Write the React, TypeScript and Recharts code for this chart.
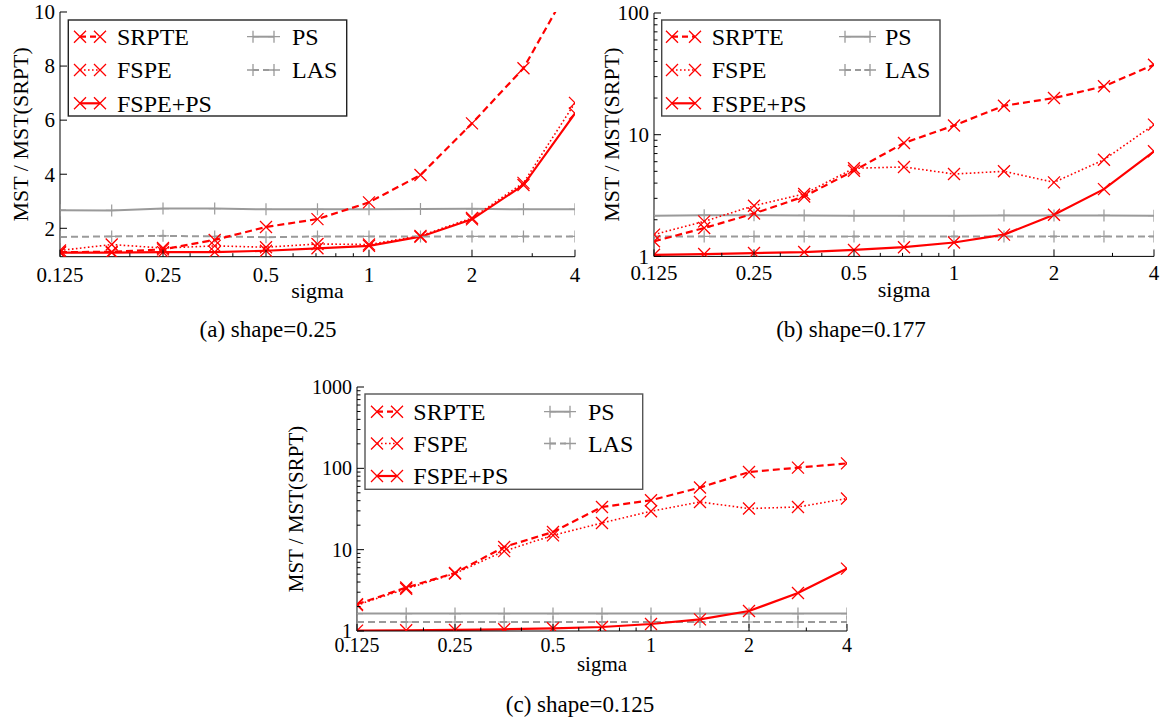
import React from 'react';
import { LineChart, Line, XAxis, YAxis } from 'recharts';

// ---------- data ----------
const sigma = [0.125, 0.177, 0.25, 0.354, 0.5, 0.707, 1, 1.414, 2, 2.828, 4];

const srpteA = [1.12, 1.13, 1.22, 1.57, 2.05, 2.34, 2.96, 3.97, 5.88, 7.92, 11.3];
const fspeA = [1.18, 1.4, 1.27, 1.35, 1.3, 1.42, 1.4, 1.72, 2.38, 3.68, 6.64];
const fspepsA = [1.1, 1.1, 1.12, 1.12, 1.17, 1.26, 1.35, 1.69, 2.33, 3.6, 6.25];
const psA = [2.67, 2.66, 2.73, 2.73, 2.7, 2.7, 2.7, 2.71, 2.72, 2.7, 2.7];
const lasA = [1.68, 1.7, 1.72, 1.7, 1.67, 1.7, 1.7, 1.7, 1.7, 1.7, 1.7];

const srpteB = [1.33, 1.71, 2.25, 3.11, 5.06, 8.55, 11.9, 17.3, 20, 25, 37.6];
const fspeB = [1.51, 1.94, 2.61, 3.26, 5.3, 5.43, 4.75, 5.0, 4.06, 6.23, 12.1];
const fspepsB = [1.03, 1.045, 1.065, 1.085, 1.13, 1.19, 1.3, 1.51, 2.2, 3.57, 7.3];
const psB = [2.16, 2.18, 2.18, 2.17, 2.16, 2.16, 2.16, 2.17, 2.17, 2.17, 2.16];
const lasB = [1.46, 1.46, 1.46, 1.46, 1.46, 1.46, 1.46, 1.46, 1.46, 1.46, 1.46];

const srpteC = [2.13, 3.42, 5.17, 10.8, 16.5, 33.5, 40.5, 58, 90, 102, 115];
const fspeC = [2.08, 3.3, 5.1, 9.6, 15, 21.3, 29.7, 38.6, 32, 33.5, 42.5];
const fspepsC = [1.01, 1.02, 1.03, 1.05, 1.08, 1.12, 1.22, 1.39, 1.76, 2.93, 5.85];
const psC = [1.64, 1.64, 1.64, 1.64, 1.64, 1.64, 1.64, 1.64, 1.64, 1.64, 1.64];
const lasC = [1.29, 1.29, 1.29, 1.29, 1.29, 1.29, 1.29, 1.29, 1.29, 1.29, 1.29];

const xMajor = [0.125, 0.25, 0.5, 1, 2, 4];
const xMajorLabels = ['0.125', '0.25', '0.5', '1', '2', '4'];
const xMinor = [0.2, 0.3, 0.4, 0.6, 0.7, 0.8, 0.9, 3];

const yMajorA = [2, 4, 6, 8, 10];
const yLabelsA = ['2', '4', '6', '8', '10'];
const yMajorB = [1, 10, 100];
const yLabelsB = ['1', '10', '100'];
const yMajorC = [1, 10, 100, 1000];
const yLabelsC = ['1', '10', '100', '1000'];
const logMinor = [2, 3, 4, 5, 6, 7, 8, 9, 20, 30, 40, 50, 60, 70, 80, 90, 200, 300, 400, 500, 600, 700, 800, 900];

const legendNames = ['SRPTE', 'FSPE', 'FSPE+PS', 'PS', 'LAS'];
const captions = ['(a) shape=0.25', '(b) shape=0.177', '(c) shape=0.125'];

// ---------- styles ----------
const FONT = '"Liberation Serif", "Times New Roman", serif';
const RED = '#ff0000';
const GRAY = '#9a9a9a';

const build = (sr: number[], fs: number[], fp: number[], ps: number[], las: number[]) =>
  sigma.map((s, i) => ({ s, srpte: sr[i], fspe: fs[i], fspeps: fp[i], ps: ps[i], las: las[i] }));

const dataA = build(srpteA, fspeA, fspepsA, psA, lasA);
const dataB = build(srpteB, fspeB, fspepsB, psB, lasB);
const dataC = build(srpteC, fspeC, fspepsC, psC, lasC);

const near = (a: number, b: number) => Math.abs(a - b) < 1e-9 * Math.max(1, Math.abs(b));

const MS = 6;

const xMark = (color: string, size: number, sw: number) => (props: any) => {
  const { cx, cy, index } = props;
  if (cx == null || cy == null || isNaN(cx) || isNaN(cy)) return <g key={`x${index}`} />;
  return (
    <path
      key={`x${index}`}
      d={`M${cx - size},${cy - size}L${cx + size},${cy + size}M${cx - size},${cy + size}L${cx + size},${cy - size}`}
      stroke={color}
      strokeWidth={sw}
      fill="none"
    />
  );
};

const plusMark = (color: string, size: number, sw: number) => (props: any) => {
  const { cx, cy, index } = props;
  if (cx == null || cy == null || isNaN(cx) || isNaN(cy)) return <g key={`p${index}`} />;
  return (
    <path
      key={`p${index}`}
      d={`M${cx - size},${cy}L${cx + size},${cy}M${cx},${cy - size}L${cx},${cy + size}`}
      stroke={color}
      strokeWidth={sw}
      fill="none"
    />
  );
};

type PanelCfg = {
  left: number;
  top: number;
  right: number;
  bottom: number;
  data: any[];
  log: boolean;
  yDomain: [number, number];
  yMajor: number[];
  yLabels: string[];
  fontSize: number;
  labelSize: number;
  tickBase: number;
  yLabelOff: number;
  xLabelBase: number;
};

function Panel({ cfg }: { cfg: PanelCfg }) {
  const { left, top, right, bottom, data, log, yDomain, yMajor, yLabels, fontSize, labelSize, tickBase, yLabelOff, xLabelBase } = cfg;
  const LW = 80;
  const BH = 56;
  const mL = 4;
  const mR = 6;
  const mT = 20;
  const mB = 4;
  const chartLeft = left - LW - mL;
  const chartTop = top - mT;
  const width = right - left + LW + mL + mR;
  const height = bottom - top + BH + mT + mB;

  const xTicks = [...xMajor, ...xMinor];
  const yMinor = log ? logMinor.filter((v) => v > yDomain[0] && v < yDomain[1]) : [];
  const yTicks = [...yMajor, ...yMinor];

  const isXMajor = (v: number) => xMajor.some((m) => near(m, v));
  const isYMajor = (v: number) => yMajor.some((m) => near(m, v));

  const BottomTick = (p: any) => {
    const v = p.payload.value;
    const maj = isXMajor(v);
    const idx = xMajor.findIndex((m) => near(m, v));
    return (
      <g>
        <line x1={p.x} x2={p.x} y1={p.y} y2={p.y - (maj ? 7 : 3.5)} stroke="#000" strokeWidth={1} />
        {maj && (
          <text x={p.x} y={p.y + tickBase} textAnchor="middle" fontFamily={FONT} fontSize={fontSize} fill="#000">
            {xMajorLabels[idx]}
          </text>
        )}
      </g>
    );
  };
  const TopTick = (p: any) => {
    const v = p.payload.value;
    const maj = isXMajor(v);
    return <line x1={p.x} x2={p.x} y1={p.y} y2={p.y + (maj ? 7 : 3.5)} stroke="#000" strokeWidth={1} />;
  };
  const LeftTick = (p: any) => {
    const v = p.payload.value;
    const maj = isYMajor(v);
    const idx = yMajor.findIndex((m) => near(m, v));
    return (
      <g>
        <line x1={p.x} x2={p.x + (maj ? 7 : 3.5)} y1={p.y} y2={p.y} stroke="#000" strokeWidth={1} />
        {maj && (
          <text x={p.x - 5} y={p.y} dy="0.35em" textAnchor="end" fontFamily={FONT} fontSize={fontSize} fill="#000">
            {yLabels[idx]}
          </text>
        )}
      </g>
    );
  };
  const RightTick = (p: any) => {
    const v = p.payload.value;
    const maj = isYMajor(v);
    return <line x1={p.x} x2={p.x - (maj ? 7 : 3.5)} y1={p.y} y2={p.y} stroke="#000" strokeWidth={1} />;
  };

  const xLabel = (p: any) => {
    const vb = p.viewBox;
    return (
      <text x={vb.x + vb.width / 2} y={vb.y + xLabelBase} textAnchor="middle" fontFamily={FONT} fontSize={labelSize} fill="#000">
        sigma
      </text>
    );
  };
  const yLabel = () => {
    const cy = (top + bottom) / 2 - chartTop;
    const x = left - yLabelOff - chartLeft;
    return (
      <text
        x={x}
        y={cy}
        transform={`rotate(-90 ${x} ${cy})`}
        textAnchor="middle"
        dominantBaseline="central"
        fontFamily={FONT}
        fontSize={labelSize}
        fill="#000"
      >
        MST / MST(SRPT)
      </text>
    );
  };

  const yScale = log ? 'log' : 'linear';

  return (
    <div style={{ position: 'absolute', left: chartLeft, top: chartTop }}>
      <LineChart width={width} height={height} data={data} margin={{ top: mT, right: mR, bottom: mB, left: mL }}>
        <XAxis
          xAxisId="b"
          dataKey="s"
          type="number"
          scale="log"
          domain={[0.125, 4]}
          allowDataOverflow
          ticks={xTicks}
          interval={0}
          tickLine={false}
          tickSize={0}
          tickMargin={0}
          tick={BottomTick}
          height={BH}
          axisLine={{ stroke: '#000', strokeWidth: 1 }}
          label={{ content: xLabel }}
        />
        <XAxis
          xAxisId="t"
          orientation="top"
          dataKey="s"
          type="number"
          scale="log"
          domain={[0.125, 4]}
          allowDataOverflow
          ticks={xTicks}
          interval={0}
          tickLine={false}
          tickSize={0}
          tickMargin={0}
          tick={TopTick}
          height={0}
          axisLine={{ stroke: '#000', strokeWidth: 1 }}
        />
        <YAxis
          yAxisId="l"
          type="number"
          scale={yScale}
          domain={yDomain}
          allowDataOverflow
          ticks={yTicks}
          interval={0}
          tickLine={false}
          tickSize={0}
          tickMargin={0}
          tick={LeftTick}
          width={LW}
          axisLine={{ stroke: '#000', strokeWidth: 1 }}
          label={{ content: yLabel }}
        />
        <YAxis
          yAxisId="r"
          orientation="right"
          type="number"
          scale={yScale}
          domain={yDomain}
          allowDataOverflow
          ticks={yTicks}
          interval={0}
          tickLine={false}
          tickSize={0}
          tickMargin={0}
          tick={RightTick}
          width={0}
          axisLine={{ stroke: '#000', strokeWidth: 1 }}
        />
        <Line xAxisId="t" yAxisId="r" dataKey="ps" stroke="none" dot={false} activeDot={false} isAnimationActive={false} legendType="none" />
        <Line xAxisId="b" yAxisId="l" dataKey="ps" type="linear" stroke={GRAY} strokeWidth={2} dot={plusMark(GRAY, MS, 1.2)} activeDot={false} isAnimationActive={false} />
        <Line xAxisId="b" yAxisId="l" dataKey="las" type="linear" stroke={GRAY} strokeWidth={2} strokeDasharray="7 4" dot={plusMark(GRAY, MS, 1.2)} activeDot={false} isAnimationActive={false} />
        <Line xAxisId="b" yAxisId="l" dataKey="srpte" type="linear" stroke={RED} strokeWidth={2.2} strokeDasharray="7 4" dot={xMark(RED, MS, 1.3)} activeDot={false} isAnimationActive={false} />
        <Line xAxisId="b" yAxisId="l" dataKey="fspe" type="linear" stroke={RED} strokeWidth={1.6} strokeDasharray="1.6 2.4" dot={xMark(RED, MS, 1.3)} activeDot={false} isAnimationActive={false} />
        <Line xAxisId="b" yAxisId="l" dataKey="fspeps" type="linear" stroke={RED} strokeWidth={2.2} dot={xMark(RED, MS, 1.3)} activeDot={false} isAnimationActive={false} />
      </LineChart>
    </div>
  );
}

type LegendCfg = {
  x: number;
  y: number;
  w: number;
  h: number;
  m1: [number, number];
  t1: number;
  m2: [number, number];
  t2: number;
  rows: number[];
  fontSize: number;
  stroke: string;
};

function LegendBox({ c }: { c: LegendCfg }) {
  const styles = [
    { color: RED, dash: '6 4', w: 2.2, mk: 'x' },
    { color: RED, dash: '1.6 2.4', w: 1.6, mk: 'x' },
    { color: RED, dash: undefined, w: 2.2, mk: 'x' },
    { color: GRAY, dash: undefined, w: 2, mk: '+' },
    { color: GRAY, dash: '6 4', w: 2, mk: '+' },
  ];
  const items = legendNames.map((name, i) => {
    const col = i < 3 ? 0 : 1;
    const row = i < 3 ? i : i - 3;
    const m = col === 0 ? c.m1 : c.m2;
    const tx = col === 0 ? c.t1 : c.t2;
    const y = c.rows[row];
    const st = styles[i];
    const s = MS;
    const mark = (cx: number) =>
      st.mk === 'x'
        ? `M${cx - s},${y - s}L${cx + s},${y + s}M${cx - s},${y + s}L${cx + s},${y - s}`
        : `M${cx - s},${y}L${cx + s},${y}M${cx},${y - s}L${cx},${y + s}`;
    return (
      <g key={name}>
        <line x1={m[0]} x2={m[1]} y1={y} y2={y} stroke={st.color} strokeWidth={st.w} strokeDasharray={st.dash} />
        <path d={mark(m[0]) + mark(m[1])} stroke={st.color} strokeWidth={1.3} fill="none" />
        <text x={tx} y={y} dy="0.35em" fontFamily={FONT} fontSize={c.fontSize} fill="#000">
          {name}
        </text>
      </g>
    );
  });
  return (
    <svg style={{ position: 'absolute', left: 0, top: 0, overflow: 'visible' }} width={1168} height={722}>
      <rect x={c.x} y={c.y} width={c.w} height={c.h} fill="#fff" stroke={c.stroke} strokeWidth={1.4} />
      {items}
    </svg>
  );
}

const panelA: PanelCfg = {
  left: 60, top: 12, right: 575, bottom: 256.7, data: dataA, log: false, yDomain: [0.95, 10],
  yMajor: yMajorA, yLabels: yLabelsA, fontSize: 21, labelSize: 22, tickBase: 25, yLabelOff: 40, xLabelBase: 41,
};
const panelB: PanelCfg = {
  left: 654, top: 13.3, right: 1154, bottom: 256.7, data: dataB, log: true, yDomain: [1, 100],
  yMajor: yMajorB, yLabels: yLabelsB, fontSize: 21, labelSize: 22, tickBase: 24, yLabelOff: 42, xLabelBase: 41,
};
const panelC: PanelCfg = {
  left: 357, top: 386.7, right: 847, bottom: 630.7, data: dataC, log: true, yDomain: [1, 1000],
  yMajor: yMajorC, yLabels: yLabelsC, fontSize: 20, labelSize: 21, tickBase: 21, yLabelOff: 61, xLabelBase: 40,
};

const legA: LegendCfg = { x: 68.3, y: 20, w: 278.4, h: 96, m1: [80, 100], t1: 117, m2: [253, 274], t2: 292, rows: [36.7, 70, 103.3], fontSize: 24, stroke: '#222' };
const legB: LegendCfg = { x: 661.7, y: 20, w: 278.3, h: 96, m1: [672, 695], t1: 711.7, m2: [845, 870], t2: 885, rows: [36.7, 70, 103.3], fontSize: 24, stroke: '#444' };
const legC: LegendCfg = { x: 365, y: 394, w: 277.7, h: 95.3, m1: [377, 397], t1: 413.3, m2: [550, 570], t2: 588, rows: [411.7, 443.5, 476], fontSize: 24, stroke: '#555' };

const captionPos = [
  { x: 268, y: 337 },
  { x: 851, y: 337 },
  { x: 580, y: 712 },
];

export default function App() {
  return (
    <div style={{ position: 'absolute', left: 0, top: 0, width: 1168, height: 722, background: '#fff', overflow: 'hidden' }}>
      <Panel cfg={panelA} />
      <Panel cfg={panelB} />
      <Panel cfg={panelC} />
      <LegendBox c={legA} />
      <LegendBox c={legB} />
      <LegendBox c={legC} />
      <svg style={{ position: 'absolute', left: 0, top: 0 }} width={1168} height={722}>
        {captions.map((t, i) => (
          <text key={t} x={captionPos[i].x} y={captionPos[i].y} textAnchor="middle" fontFamily={FONT} fontSize={23} fill="#000">
            {t}
          </text>
        ))}
      </svg>
    </div>
  );
}
